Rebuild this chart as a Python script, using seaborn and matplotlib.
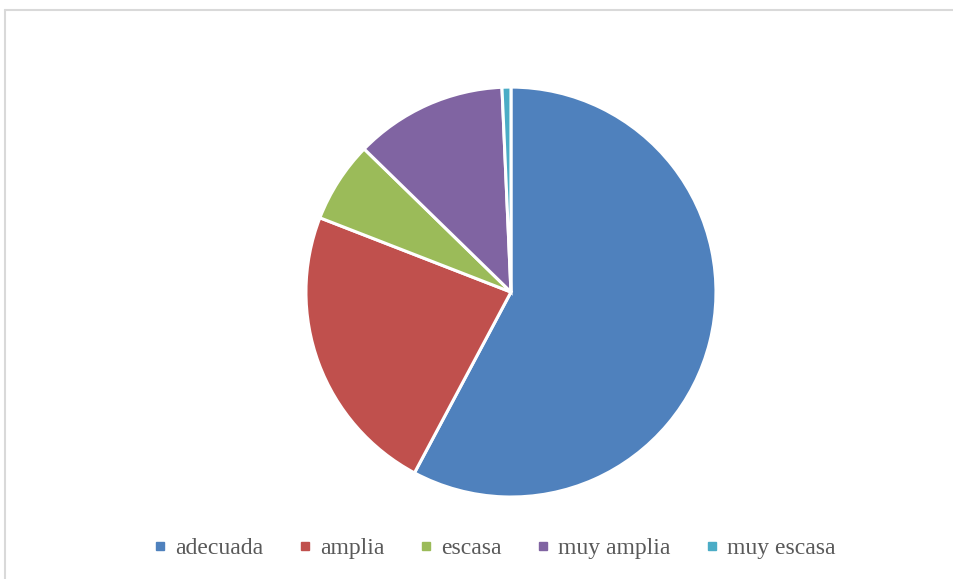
import matplotlib
matplotlib.use("Agg")
import matplotlib.pyplot as plt
import seaborn as sns
from matplotlib.lines import Line2D

categories = ["adecuada", "amplia", "escasa", "muy amplia", "muy escasa"]
values = [57.8, 23.1, 6.4, 12.0, 0.7]
colors = ["#4F81BD", "#C0504D", "#9BBB59", "#8064A2", "#4BACC6"]

sns.set_theme(style="white")
plt.rcParams['font.family'] = ['Liberation Serif', 'DejaVu Serif']

fig = plt.figure(figsize=(9.54, 5.79), dpi=100)
ax = fig.add_axes([0.3207, 0.1416, 0.4298, 0.708])

ax.pie(values, colors=colors, startangle=90, counterclock=False,
       wedgeprops=dict(edgecolor="white", linewidth=2.2))
ax.set_xlim(-1, 1)
ax.set_ylim(-1, 1)
ax.set_aspect("auto")

# chart frame: only top and left edges are visible
x0, y0 = 5 / 954, 1 - 10 / 579
fig.add_artist(Line2D([x0, 1.0], [y0, y0], transform=fig.transFigure,
                      color="#D9D9D9", linewidth=1.5))
fig.add_artist(Line2D([x0, x0], [0.0, y0], transform=fig.transFigure,
                      color="#D9D9D9", linewidth=1.5))

handles = [Line2D([0], [0], marker="s", linestyle="", markersize=6,
                  markerfacecolor=c, markeredgecolor=c) for c in colors]
fig.legend(handles, categories, loc="center", bbox_to_anchor=(495 / 954, 1 - 548 / 579),
           ncol=5, frameon=False, fontsize=17, handlelength=0.5, handletextpad=0.4,
           columnspacing=1.5, labelcolor="#595959")

fig.savefig("out.png", dpi=100)
